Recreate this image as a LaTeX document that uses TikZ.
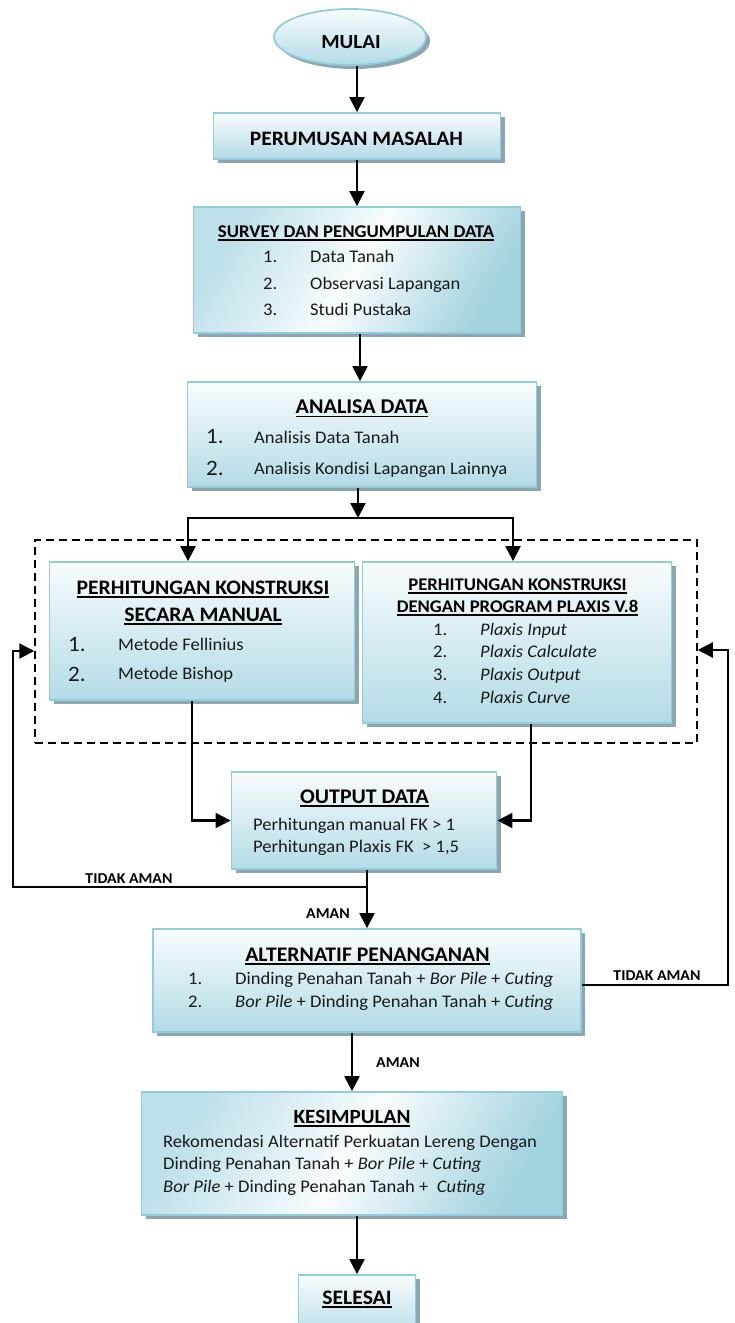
\documentclass[tikz,border=0pt]{standalone}
\usepackage{fontspec}
\setmainfont{Carlito}[FakeStretch=1.05]
\usetikzlibrary{arrows.meta,shadows,shapes.geometric}
\definecolor{bordc}{HTML}{93CDDD}
\definecolor{boxb}{HTML}{B3DBE6}
\definecolor{boxt}{HTML}{F8FCFD}
\definecolor{boxd}{HTML}{A3D3DF}
\definecolor{shad}{HTML}{8DA5AE}
\definecolor{txt}{HTML}{1A1A1A}
\newcommand{\fs}[1]{\fontsize{#1}{#1}\selectfont}
\newcommand{\ulx}[1]{\leavevmode\setbox0=\hbox{#1}\rlap{\vrule height -0.09em depth 0.17em width \wd0}\box0}
\begin{document}
\begin{tikzpicture}[x=1pt,y=-1pt,
  box/.style={draw=bordc,line width=1.8pt,top color=boxt,bottom color=boxb,inner sep=0pt,
    drop shadow={shadow xshift=4pt,shadow yshift=-4pt,fill=shad,opacity=1}},
  dbox/.style={box,left color=boxb!85,right color=boxd,middle color=boxt,shading angle=60},
  arr/.style={line width=2.2pt,-{Triangle[length=15pt,width=15pt]}},
  ttl/.style={font=\fs{#1}\bfseries,inner sep=0pt,anchor=base,text=black},
  body/.style={font=\fs{#1},inner sep=0pt,anchor=base west,text=txt},
  lbl/.style={font=\fs{15.1}\bfseries,inner sep=0pt,anchor=base,text=black}]
\useasboundingbox (0,0) rectangle (734,1323);

% ---- boxes ----
\node[box,ellipse,minimum width=152pt,minimum height=56pt] (mulai) at (350,37) {};
\node[box,minimum width=287pt,minimum height=46pt] (perumusan) at (357,136) {};
\node[dbox,minimum width=327pt,minimum height=126pt] (survey) at (357,270) {};
\node[box,minimum width=349pt,minimum height=105pt] (analisa) at (362,434.5) {};
\node[draw,dashed,dash pattern=on 8pt off 5pt,line width=1.5pt,minimum width=662pt,minimum height=203pt,inner sep=0pt] (grp) at (366,641.5) {};
\node[box,minimum width=305pt,minimum height=138pt] (manual) at (202,631) {};
\node[box,minimum width=309pt,minimum height=161pt] (plaxis) at (517,642.5) {};
\node[box,minimum width=265pt,minimum height=97pt] (output) at (364,820.5) {};
\node[box,minimum width=428pt,minimum height=103pt] (alternatif) at (367,980.5) {};
\node[dbox,minimum width=421pt,minimum height=123pt] (kesimpulan) at (352,1153.5) {};
\node[box,minimum width=117pt,minimum height=65pt] (selesai) at (357,1307.5) {};

% ---- texts ----
\node[ttl=20] (tmulai) at (351,48.4) {MULAI};
\node[ttl=20.5] (tperum) at (356.5,145.6) {PERUMUSAN MASALAH};

\node[ttl=17.9] (tsurvey) at (356,237.8) {\ulx{SURVEY DAN PENGUMPULAN DATA}};
\node[body=17.7] (s1n) at (263,262.5) {1.};
\node[body=17.7] (s1) at (310,262.5) {Data Tanah};
\node[body=17.7] (s2n) at (263,289) {2.};
\node[body=17.7] (s2) at (310,289) {Observasi Lapangan};
\node[body=17.7] (s3n) at (263,315.7) {3.};
\node[body=17.7] (s3) at (310,315.7) {Studi Pustaka};

\node[ttl=21] (tanalisa) at (362,413.8) {\ulx{ANALISA DATA}};
\node[body=22] (a1n) at (206,443.8) {1.};
\node[body=17.7] (a1) at (254,443.7) {Analisis Data Tanah};
\node[body=22] (a2n) at (206,475) {2.};
\node[body=17.7] (a2) at (254,474.2) {Analisis Kondisi Lapangan Lainnya};

\node[ttl=20.6] (tman1) at (203,594.6) {\ulx{PERHITUNGAN KONSTRUKSI}};
\node[ttl=20.6] (tman2) at (203,621.6) {\ulx{SECARA MANUAL}};
\node[body=22] (m1n) at (68,651) {1.};
\node[body=17.7] (m1) at (118,650.7) {Metode Fellinius};
\node[body=22] (m2n) at (68,681) {2.};
\node[body=17.7] (m2) at (118,679.7) {Metode Bishop};

\node[ttl=17.8] (tpl1) at (517.5,590.7) {\ulx{PERHITUNGAN KONSTRUKSI}};
\node[ttl=17.8] (tpl2) at (517.5,612.7) {\ulx{DENGAN PROGRAM PLAXIS V.8}};
\node[body=17.7] (p1n) at (433,635.7) {1.};
\node[body=17.7] (p1) at (480,635.7) {\itshape Plaxis Input};
\node[body=17.7] (p2n) at (433,657.7) {2.};
\node[body=17.7] (p2) at (480,657.7) {\itshape Plaxis Calculate};
\node[body=17.7] (p3n) at (433,680.7) {3.};
\node[body=17.7] (p3) at (480,680.7) {\itshape Plaxis Output};
\node[body=17.7] (p4n) at (433,703.7) {4.};
\node[body=17.7] (p4) at (480,703.7) {\itshape Plaxis Curve};

\node[ttl=20.8] (tout) at (364.5,803.6) {\ulx{OUTPUT DATA}};
\node[body=17.7] (o1) at (253,830.7) {Perhitungan manual FK > 1};
\node[body=17.7] (o2) at (253,852.7) {Perhitungan Plaxis FK~~> 1,5};

\node[ttl=20.7] (talt) at (367.5,961.6) {\ulx{ALTERNATIF PENANGANAN}};
\node[body=17.7] (al1n) at (188,984.7) {1.};
\node[body=17.7] (al1) at (235,984.7) {Dinding Penahan Tanah + \textit{Bor Pile} + \textit{Cuting}};
\node[body=17.7] (al2n) at (188,1007.7) {2.};
\node[body=17.7] (al2) at (235,1007.7) {\textit{Bor Pile} + Dinding Penahan Tanah + \textit{Cuting}};

\node[ttl=20.2] (tkes) at (352,1123.5) {\ulx{KESIMPULAN}};
\node[body=17.7] (k1) at (163,1147.2) {Rekomendasi Alternatif Perkuatan Lereng Dengan};
\node[body=17.7] (k2) at (163,1169.2) {Dinding Penahan Tanah + \textit{Bor Pile} + \textit{Cuting}};
\node[body=17.7] (k3) at (163,1192.2) {\textit{Bor Pile} + Dinding Penahan Tanah +~~\textit{Cuting}};

\node[ttl=20.6] (tsel) at (357,1304.6) {\ulx{SELESAI}};

% ---- labels ----
\node[lbl] (ltl) at (129,883.5) {TIDAK AMAN};
\node[lbl] (la1) at (328,918.5) {AMAN};
\node[lbl] (ltr) at (657,980.5) {TIDAK AMAN};
\node[lbl] (la2) at (398,1067.5) {AMAN};

% ---- connectors ----
\coordinate (split) at (358,518);
\coordinate (ob) at (367,887);
\coordinate (lc) at (13,651);
\coordinate (rc) at (728,650);

\draw[arr] ([xshift=7pt]mulai.south) -- ([xshift=7pt]mulai.south |- perumusan.north);
\draw[arr] (perumusan.south) -- (survey.north);
\draw[arr] (survey.south -| 360,0) -- (analisa.north -| 360,0);
\draw[arr] (analisa.south -| split) -- (split);
\draw[arr] (split) -| ([xshift=-14pt]manual.north);
\draw[arr] (split) -| ([xshift=-4pt]plaxis.north);
\draw[arr] ([xshift=-10pt]manual.south) |- (output.west);
\draw[arr] ([xshift=14pt]plaxis.south) |- (output.east);
\draw[arr] (output.south -| alternatif.north) -- (alternatif.north);
\draw[arr] (ob) -| (lc) -- (grp.west |- lc);
\draw[arr] ([yshift=-4.5pt]alternatif.east) -| (rc) -- (grp.east |- rc);
\draw[arr] (alternatif.south -| kesimpulan.north) -- (kesimpulan.north);
\draw[arr] (kesimpulan.south -| selesai.north) -- (selesai.north);
\end{tikzpicture}
\end{document}
